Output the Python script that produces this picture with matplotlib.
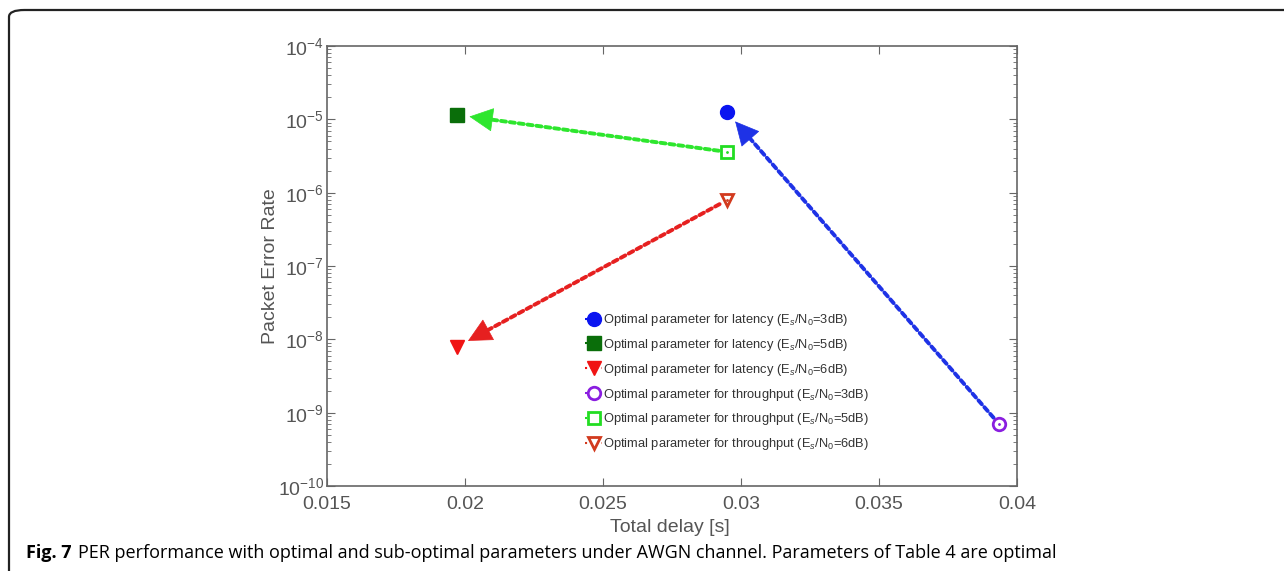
import matplotlib
matplotlib.use("Agg")
import matplotlib.pyplot as plt
import numpy as np
from matplotlib.patches import FancyBboxPatch

plt.rcParams["font.family"] = ["Liberation Sans", "DejaVu Sans"]
plt.rcParams["mathtext.fontset"] = "custom"
plt.rcParams["mathtext.rm"] = "Liberation Sans"
plt.rcParams["mathtext.it"] = "Liberation Sans:italic"
plt.rcParams["mathtext.sf"] = "Liberation Sans"

# total delay [s] and packet error rate for each operating point
snr_db = [3, 5, 6]
delay_latency = [0.02949, 0.01971, 0.01971]
per_latency = [1.26e-5, 1.15e-5, 7.9e-9]
delay_throughput = [0.03935, 0.02949, 0.02949]
per_throughput = [7.0e-10, 3.6e-6, 7.9e-7]

latency_colors = ["#0a14f0", "#0a6e0a", "#f01414"]
latency_markers = ["o", "s", "v"]
throughput_colors = ["#8a1ee0", "#22dd22", "#d23a1e"]
throughput_markers = ["o", "s", "v"]
arrow_colors = ["#1e32e6", "#2ee62e", "#e62020"]

xticks = [0.015, 0.02, 0.025, 0.03, 0.035, 0.04]
xtick_labels = ["0.015", "0.02", "0.025", "0.03", "0.035", "0.04"]
yticks = [1e-10, 1e-9, 1e-8, 1e-7, 1e-6, 1e-5, 1e-4]
ytick_labels = ["10$^{-10}$", "10$^{-9}$", "10$^{-8}$", "10$^{-7}$",
                "10$^{-6}$", "10$^{-5}$", "10$^{-4}$"]

fig = plt.figure(figsize=(12.84, 5.71), dpi=100)
fig.patch.set_facecolor("white")

# outer frame of the figure panel
frame = FancyBboxPatch((9 / 1284, -0.1), 1.2, 1.1 - 10 / 571,
                       boxstyle="round,pad=0,rounding_size=0.012",
                       transform=fig.transFigure, facecolor="none",
                       edgecolor="#222222", linewidth=1.6, clip_on=False)
fig.patches.append(frame)

ax = fig.add_axes([327 / 1284, 1 - 486 / 571, 690 / 1284, 440 / 571])
ax.set_yscale("log")
ax.set_xlim(0.015, 0.04)
ax.set_ylim(1e-10, 1e-4)

ax.set_xticks(xticks)
ax.set_xticklabels(xtick_labels)
ax.set_yticks(yticks)
ax.set_yticklabels(ytick_labels)
ax.tick_params(axis="both", which="both", direction="in", colors="#666666",
               labelcolor="#555555", top=True, right=True)
ax.tick_params(axis="x", labelsize=14, pad=7)
ax.tick_params(axis="y", labelsize=14, pad=2)
ax.tick_params(axis="both", which="major", length=6)
ax.tick_params(axis="y", which="minor", length=3)
for s in ax.spines.values():
    s.set_color("#666666")
    s.set_linewidth(1.2)

ax.set_xlabel("Total delay [s]", fontsize=14, color="#555555")
ax.xaxis.set_label_coords(0.497, -0.075)
ax.set_ylabel("Packet Error Rate", fontsize=14, color="#555555")
ax.yaxis.set_label_coords(-48 / 690, 0.5)

# dotted arrows from throughput-optimal point to latency-optimal point
head_pts = 16
for i in range(3):
    p0 = ax.transData.transform((delay_throughput[i], per_throughput[i]))
    p1 = ax.transData.transform((delay_latency[i], per_latency[i]))
    d = (p0 - p1) / np.hypot(*(p0 - p1))
    # shaft
    ax.annotate("", xy=(delay_latency[i], per_latency[i]),
                xytext=(delay_throughput[i], per_throughput[i]),
                arrowprops=dict(arrowstyle="-", color=arrow_colors[i],
                                linewidth=2.8, linestyle=(0, (1.3, 1.0)),
                                shrinkA=6, shrinkB=9 + head_pts * 0.8),
                zorder=2)
    # head
    back = (9 + head_pts) * d
    ax.annotate("", xy=(delay_latency[i], per_latency[i]),
                xytext=(back[0], back[1]), textcoords="offset pixels",
                arrowprops=dict(arrowstyle="-|>,head_length=1.6,head_width=0.8",
                                color=arrow_colors[i], linewidth=0.5,
                                shrinkA=0, shrinkB=9),
                zorder=2)

handles = []
for i in range(3):
    h, = ax.plot(delay_latency[i], per_latency[i], linestyle=":",
                 color=latency_colors[i], marker=latency_markers[i],
                 markersize=10, markerfacecolor=latency_colors[i],
                 markeredgecolor=latency_colors[i], zorder=3,
                 label="Optimal parameter for latency (E$_s$/N$_0$=%ddB)" % snr_db[i])
    handles.append(h)
for i in range(3):
    h, = ax.plot(delay_throughput[i], per_throughput[i], linestyle=":",
                 color=throughput_colors[i], marker=throughput_markers[i],
                 markersize=9, markerfacecolor="white", markeredgewidth=2,
                 markeredgecolor=throughput_colors[i], zorder=3,
                 label="Optimal parameter for throughput (E$_s$/N$_0$=%ddB)" % snr_db[i])
    handles.append(h)
    ax.plot(delay_throughput[i], per_throughput[i], ".", markersize=2,
            color=throughput_colors[i], zorder=4)

leg = ax.legend(handles=handles, loc="upper left",
                bbox_to_anchor=(253 / 690, 1 - 261 / 440),
                frameon=False, fontsize=9.3, handlelength=1.3,
                handletextpad=0.1, labelspacing=0.68, borderaxespad=0)
for t in leg.get_texts():
    t.set_color("#333333")

cap_y = 1 - 558 / 571
cap_font = ["Open Sans", "DejaVu Sans"]
bold = fig.text(26 / 1284, cap_y, "Fig. 7", fontsize=13, fontweight="bold",
                family=cap_font, va="baseline")
fig.canvas.draw()
bb = bold.get_window_extent()
fig.text((bb.x1 + 6) / 1284, cap_y,
         "PER performance with optimal and sub-optimal parameters under AWGN channel. "
         "Parameters of Table 4 are optimal",
         fontsize=13, family=cap_font, va="baseline")

fig.savefig("out.png", dpi=100)
